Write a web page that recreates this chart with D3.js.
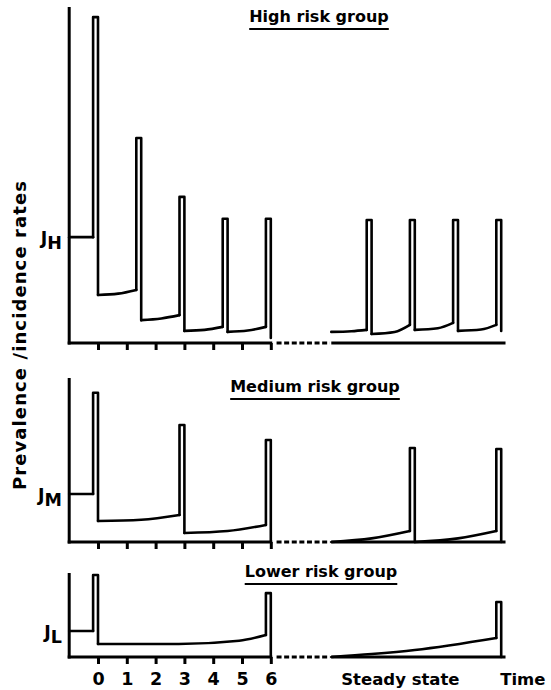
<!DOCTYPE html>
<html>
<head>
<meta charset="utf-8">
<title>Prevalence / incidence rates by risk group</title>
<script src="https://cdn.jsdelivr.net/npm/d3@7"></script>
<style>
body { margin: 0; background: #fff; }
svg { font-family: "DejaVu Sans", sans-serif; font-weight: bold; }
.curve { fill: none; stroke: #000; stroke-width: 2.6px; stroke-linejoin: round; stroke-linecap: round; }
.axisline { stroke: #000; stroke-width: 3px; }
.tick line { stroke: #000; stroke-width: 3px; }
.tick text { font-size: 17.5px; fill: #000; }
</style>
</head>
<body>
<script>
// time ticks (the steady state is drawn further along the same time axis)
var timeTicks = [0, 1, 2, 3, 4, 5, 6];

// troughs: [time, rate] points between two pulses, rate 0..100 of panel height
// spikes: [time, rate before, peak, rate after]
var highJ = 31.5;
var highTroughs = [
  [[-1, 31.5], [-0.17, 31.5]],
  [[0, 14.3], [0.7, 14.7], [1.33, 15.8]],
  [[1.5, 6.8], [2.2, 7.3], [2.83, 8.3]],
  [[3, 3.6], [3.7, 3.9], [4.33, 4.8]],
  [[4.5, 3.3], [5.2, 3.7], [5.83, 4.8]],
  [[8.1, 3.3], [8.8, 3.5], [9.33, 3.9]],
  [[9.5, 2.7], [10.3, 3.3], [10.83, 5.4]],
  [[11, 3.9], [11.8, 4.4], [12.33, 6]],
  [[12.5, 3.6], [13.3, 4], [13.83, 5.4]]
];
var highSpikes = [
  [0, 31.5, 97, 14.3],
  [1.5, 15.8, 61, 6.8],
  [3, 8.3, 43.5, 3.6],
  [4.5, 4.8, 37, 3.3],
  [6, 4.8, 37, 1.5],
  [9.5, 3.9, 36.6, 2.7],
  [11, 5.4, 36.6, 3.9],
  [12.5, 6, 36.6, 3.6],
  [14, 5.4, 36.6, 3.6]
];

var medJ = 29.3;
var medTroughs = [
  [[-1, 29.3], [-0.17, 29.3]],
  [[0, 12.8], [1.5, 13.6], [2.83, 16.5]],
  [[3, 5.5], [4.5, 6.7], [5.83, 10.4]],
  [[8.1, 0], [9.5, 2.2], [10.83, 6.7]],
  [[11, 0], [12.5, 2.2], [13.83, 6.7]]
];
var medSpikes = [
  [0, 29.3, 91, 12.8],
  [3, 16.5, 71.3, 5.5],
  [6, 10.4, 62.2, 0],
  [11, 6.7, 57.3, 0],
  [14, 6.7, 56.7, 0]
];

var lowJ = 31;
var lowTroughs = [
  [[-1, 31], [-0.17, 31]],
  [[0, 15.5], [2.8, 15.5], [4.9, 19.4], [5.83, 26.2]],
  [[8.1, 0], [9.5, 3.5], [11, 8.3], [13.83, 22.6]]
];
var lowSpikes = [
  [0, 31, 97.6, 15.5],
  [6, 26.2, 76, 0],
  [14, 22.6, 65.5, 0]
];

var panels = [
  {title: "High risk group", sub: "H", j: highJ, troughs: highTroughs, spikes: highSpikes,
   axisY: 343, topY: 7, titleX: 319, titleY: 22, labels: false},
  {title: "Medium risk group", sub: "M", j: medJ, troughs: medTroughs, spikes: medSpikes,
   axisY: 542, topY: 378, titleX: 315, titleY: 392, labels: false},
  {title: "Lower risk group", sub: "L", j: lowJ, troughs: lowTroughs, spikes: lowSpikes,
   axisY: 657, topY: 573, titleX: 321, titleY: 577, labels: true}
];

var width = 551, height = 690;
var spikeW = 0.17;

var x = d3.scaleLinear().domain([-1, 14]).range([69.2, 501.2]);

var svg = d3.select("body").append("svg")
    .attr("width", width)
    .attr("height", height);

panels.forEach(function(p) {
  var y = d3.scaleLinear().domain([0, 100]).range([p.axisY, p.topY]);
  var g = svg.append("g");

  // y axis
  g.append("line").attr("class", "axisline")
      .attr("x1", x(-1)).attr("x2", x(-1))
      .attr("y1", p.axisY + 1.5).attr("y2", p.topY);

  // x axis: solid, broken (dashed), solid again for steady state
  g.append("line").attr("class", "axisline")
      .attr("x1", x(-1) - 1.5).attr("x2", x(6.05))
      .attr("y1", p.axisY).attr("y2", p.axisY);
  g.append("line").attr("class", "axisline")
      .attr("x1", x(6.2)).attr("x2", x(8.05))
      .attr("y1", p.axisY).attr("y2", p.axisY)
      .style("stroke-dasharray", "5,2.6");
  g.append("line").attr("class", "axisline")
      .attr("x1", x(8.1)).attr("x2", x(14.15))
      .attr("y1", p.axisY).attr("y2", p.axisY);

  var xAxis = d3.axisBottom(x)
      .tickValues(timeTicks)
      .tickSize(7)
      .tickPadding(9)
      .tickFormat(p.labels ? d3.format("d") : "");

  g.append("g")
      .attr("transform", "translate(0," + p.axisY + ")")
      .call(xAxis)
      .call(function(a) { a.select(".domain").remove(); })
      .selectAll("text").style("font-family", "DejaVu Sans").style("font-weight", "bold");

  var troughLine = d3.line()
      .x(function(d) { return x(d[0]); })
      .y(function(d) { return y(d[1]); })
      .curve(d3.curveMonotoneX);

  g.selectAll(".trough")
      .data(p.troughs)
    .enter().append("path")
      .attr("class", "curve")
      .attr("d", troughLine);

  var spikeLine = d3.line()
      .x(function(d) { return x(d[0]); })
      .y(function(d) { return y(d[1]); });

  g.selectAll(".spike")
      .data(p.spikes)
    .enter().append("path")
      .attr("class", "curve")
      .attr("d", function(s) {
        return spikeLine([[s[0] - spikeW, s[1]], [s[0] - spikeW, s[2]], [s[0], s[2]], [s[0], s[3]]]);
      });

  // J label
  var jt = g.append("text")
      .attr("x", 62)
      .attr("y", y(p.j) + 7)
      .attr("text-anchor", "end")
      .style("font-size", "17.5px");
  jt.append("tspan").text("J");
  jt.append("tspan").attr("dy", 5).text(p.sub);

  // underlined title
  var t = g.append("text")
      .attr("x", p.titleX)
      .attr("y", p.titleY)
      .attr("text-anchor", "middle")
      .style("font-size", "16px")
      .text(p.title);
  var bb = t.node().getBBox();
  g.append("line")
      .attr("x1", bb.x).attr("x2", bb.x + bb.width)
      .attr("y1", p.titleY + 7).attr("y2", p.titleY + 7)
      .style("stroke", "#000").style("stroke-width", 2);
});

svg.append("text")
    .attr("x", x(10.5))
    .attr("y", 685)
    .attr("text-anchor", "middle")
    .style("font-size", "16.5px")
    .text("Steady state");

svg.append("text")
    .attr("x", x(14.75))
    .attr("y", 685)
    .attr("text-anchor", "middle")
    .style("font-size", "16.5px")
    .text("Time");

svg.append("text")
    .attr("transform", "translate(26,335) rotate(-90)")
    .attr("text-anchor", "middle")
    .style("font-size", "18px")
    .style("letter-spacing", "1.1px")
    .text("Prevalence /incidence rates");
</script>
</body>
</html>
